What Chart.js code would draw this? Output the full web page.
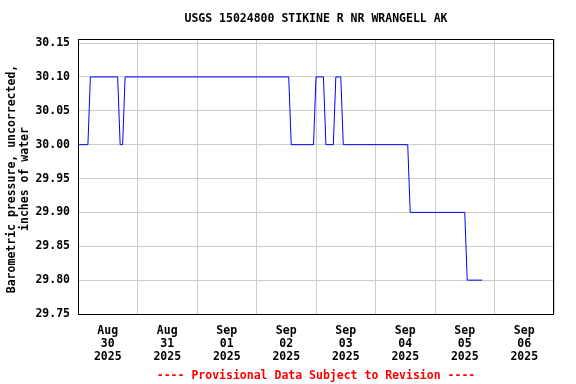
<!DOCTYPE html>
<html>
<head>
<meta charset="utf-8">
<script src="https://cdn.jsdelivr.net/npm/chart.js@4/dist/chart.umd.min.js"></script>
<style>
  body { margin: 0; background: #fff; }
  canvas { display: block; }
</style>
</head>
<body>
<canvas id="grafica" width="576" height="384"></canvas>
<script>
  // Lecturas (horas desde 30 ago 2025 00:00) y presión en pulgadas de agua
  const horasObs = [0, 4, 5, 16, 17, 18, 19, 85, 86, 95, 96, 99, 100, 103, 104, 106, 107, 133, 134, 156, 157, 163];
  const presionObs = [30.00, 30.00, 30.10, 30.10, 30.00, 30.00, 30.10, 30.10, 30.00, 30.00, 30.10, 30.10, 30.00, 30.00, 30.10, 30.10, 30.00, 30.00, 29.90, 29.90, 29.80, 29.80];

  const mesesDia = ['Aug', 'Aug', 'Sep', 'Sep', 'Sep', 'Sep', 'Sep', 'Sep'];
  const numerosDia = ['30', '31', '01', '02', '03', '04', '05', '06'];
  const anioDia = ['2025', '2025', '2025', '2025', '2025', '2025', '2025', '2025'];
  const ticksY = [29.75, 29.80, 29.85, 29.90, 29.95, 30.00, 30.05, 30.10, 30.15];

  const titulo = 'USGS 15024800 STIKINE R NR WRANGELL AK';
  const tituloY = ['Barometric pressure, uncorrected,', 'inches of water'];
  const aviso = '---- Provisional Data Subject to Revision ----';

  const fuente = 'bold 11.5px "DejaVu Sans Mono", monospace';

  const puntos = horasObs.map((h, i) => ({ x: h, y: presionObs[i] }));

  // Textos fijos y marco del área de la gráfica
  const textosPlugin = {
    id: 'textos',
    afterDraw(chart) {
      const ctx = chart.ctx;
      const area = chart.chartArea;
      const centro = (area.left + area.right) / 2;
      ctx.save();
      ctx.strokeStyle = '#000';
      ctx.lineWidth = 1;
      ctx.strokeRect(area.left + 0.5, area.top + 0.5, area.right - area.left - 1, area.bottom - area.top);

      ctx.font = fuente;
      ctx.fillStyle = '#000';
      ctx.textAlign = 'center';
      ctx.textBaseline = 'middle';
      ctx.fillText(titulo, centro, 19);

      ctx.fillStyle = '#ff0000';
      ctx.fillText(aviso, centro, 376);

      ctx.fillStyle = '#000';
      ctx.translate(0, 179);
      ctx.rotate(-Math.PI / 2);
      ctx.fillText(tituloY[0], 0, 12);
      ctx.fillText(tituloY[1], 0, 25);
      ctx.restore();
    }
  };

  window.addEventListener('DOMContentLoaded', () => {
    const canvas = document.getElementById('grafica');
    new Chart(canvas, {
      type: 'line',
      data: {
        datasets: [{
          data: puntos,
          borderColor: '#0000ff',
          borderWidth: 1,
          pointRadius: 0,
          tension: 0,
          fill: false
        }]
      },
      options: {
        responsive: false,
        animation: false,
        layout: { padding: { left: 0, top: 39, right: 22, bottom: 0 } },
        plugins: {
          legend: { display: false },
          tooltip: { enabled: false }
        },
        scales: {
          x: {
            type: 'linear',
            min: 0,
            max: 192,
            afterBuildTicks: (scale) => {
              const t = [];
              for (let h = 0; h <= 192; h += 12) t.push({ value: h });
              scale.ticks = t;
            },
            afterFit: (scale) => { scale.height = 70; },
            border: { display: false },
            grid: {
              drawTicks: false,
              color: (c) => (c.tick && c.tick.value % 24 === 0) ? '#cccccc' : 'rgba(0,0,0,0)',
              lineWidth: 1
            },
            ticks: {
              autoSkip: false,
              maxRotation: 0,
              padding: 11,
              color: '#000',
              font: { family: '"DejaVu Sans Mono", monospace', size: 11.5, weight: 'bold', lineHeight: 1.13 },
              callback: (v) => {
                if (v % 24 !== 12) return '';
                const i = (v - 12) / 24;
                return [mesesDia[i], numerosDia[i], anioDia[i]];
              }
            }
          },
          y: {
            min: 29.75,
            max: 30.156,
            afterBuildTicks: (scale) => { scale.ticks = ticksY.map(v => ({ value: v })); },
            afterFit: (scale) => { scale.width = 78; },
            border: { display: false },
            grid: { drawTicks: false, color: '#cccccc', lineWidth: 1 },
            ticks: {
              padding: 8,
              color: '#000',
              font: { family: '"DejaVu Sans Mono", monospace', size: 11.5, weight: 'bold' },
              callback: (v) => v.toFixed(2)
            }
          }
        }
      },
      plugins: [textosPlugin]
    });
  });
</script>
</body>
</html>
